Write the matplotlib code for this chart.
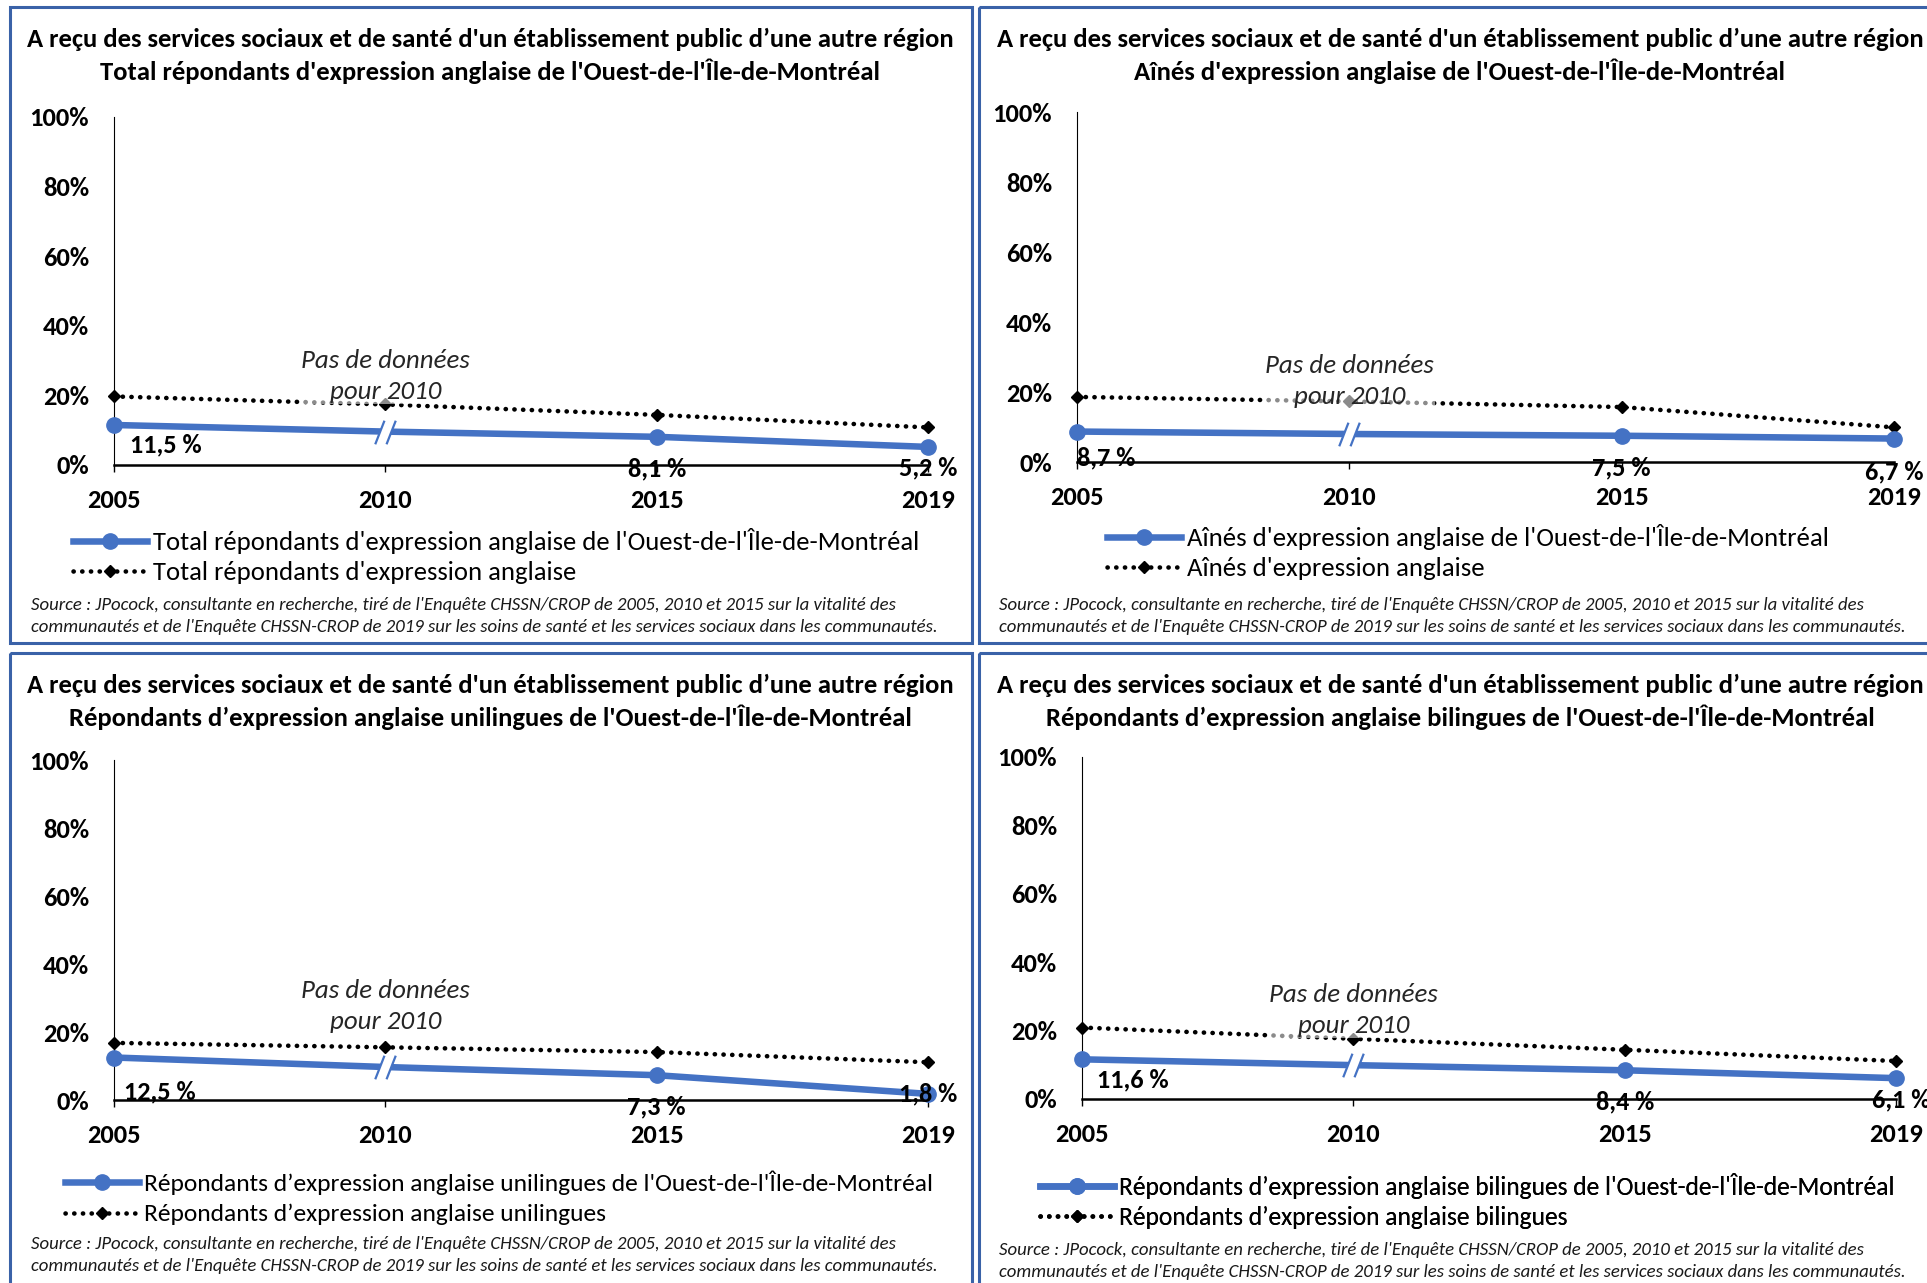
"""
Quatre panneaux : services reçus d'un établissement public d'une autre région,
Ouest-de-l'Île-de-Montréal vs ensemble des répondants d'expression anglaise.
"""
import matplotlib
matplotlib.use("Agg")
import matplotlib.pyplot as plt
from matplotlib import font_manager
from matplotlib.lines import Line2D
from matplotlib.patches import Rectangle
from matplotlib.path import Path

W, H, DPI = 1927, 1283, 100

_installed = {f.name for f in font_manager.fontManager.ttflist}
FONT = next(f for f in ["Carlito", "Liberation Sans Narrow", "Liberation Sans", "DejaVu Sans"]
            if f in _installed)
plt.rcParams["font.family"] = [FONT, "DejaVu Sans"]

BLUE = "#4472C4"
FRAME = "#3A62A8"

# ---------------------------------------------------------------------------
# Data
# ---------------------------------------------------------------------------
years = ["2005", "2010", "2015", "2019"]

tl_local = [11.5, 9.6, 8.1, 5.2]
tl_region = [19.7, 17.4, 14.4, 10.8]
tr_local = [8.7, 8.0, 7.5, 6.7]
tr_region = [18.6, 17.3, 15.7, 9.9]
bl_local = [12.5, 9.7, 7.3, 1.8]
bl_region = [16.8, 15.5, 14.1, 11.1]
br_local = [11.6, 9.9, 8.4, 6.1]
br_region = [20.9, 17.6, 14.4, 11.1]

main_title = "A reçu des services sociaux et de santé d'un établissement public d’une autre région"
subtitles = [
    "Total répondants d'expression anglaise de l'Ouest-de-l'Île-de-Montréal",
    "Aînés d'expression anglaise de l'Ouest-de-l'Île-de-Montréal",
    "Répondants d’expression anglaise unilingues de l'Ouest-de-l'Île-de-Montréal",
    "Répondants d’expression anglaise bilingues de l'Ouest-de-l'Île-de-Montréal",
]
legend_local = subtitles
legend_region = [
    "Total répondants d'expression anglaise",
    "Aînés d'expression anglaise",
    "Répondants d’expression anglaise unilingues",
    "Répondants d’expression anglaise bilingues",
]
note_text = "Pas de données\npour 2010"
source_lines = [
    "Source : JPocock, consultante en recherche, tiré de l'Enquête CHSSN/CROP de 2005, 2010 "
    "et 2015 sur la vitalité des",
    "communautés et de l'Enquête CHSSN-CROP de 2019 sur les soins de santé et les services "
    "sociaux dans les communautés.",
]

# ---------------------------------------------------------------------------
# Layout (pixels from top-left)
# ---------------------------------------------------------------------------
panels = [
    dict(local=tl_local, region=tl_region, frame=(10, 7), axes=(114, 117, 928, 465),
         title_y=(39, 71), cx=490, legend=(496, 556), legend_w=764, source=(31, 605),
         note_y=25.6, offsets=[(52, -20), (0, -32), (0, -21)]),
    dict(local=tr_local, region=tr_region, frame=(979, 7), axes=(1077, 112, 1894, 462),
         title_y=(39, 71), cx=1460, legend=(1468, 552), legend_w=640, source=(999, 605),
         note_y=23.1, offsets=[(29, -26), (0, -32), (0, -33)]),
    dict(local=bl_local, region=bl_region, frame=(10, 653), axes=(114, 760, 928, 1100),
         title_y=(685, 717), cx=490, legend=(499, 1198), legend_w=788, source=(31, 1244),
         note_y=27.6, offsets=[(46, -34), (0, -32), (0, 0)]),
    dict(local=br_local, region=br_region, frame=(979, 653), axes=(1082, 757, 1896, 1099),
         title_y=(685, 717), cx=1460, legend=(1467, 1201), legend_w=776, source=(999, 1250),
         note_y=26.0, offsets=[(51, -21), (0, -32), (5, -22)]),
]

fig = plt.figure(figsize=(W / DPI, H / DPI), dpi=DPI)
fig.patch.set_facecolor("white")
renderer = fig.canvas.get_renderer()


def measure(text, fs=20, **kw):
    t = fig.text(0, 0, text, fontsize=fs, **kw)
    bb = t.get_window_extent(renderer)
    t.remove()
    return bb.width, bb.height


def fit_size(text, target_px, **kw):
    """Font size that gives `text` the requested width in pixels."""
    return 20 * target_px / measure(text, **kw)[0]


TITLE_FS = fit_size(main_title, 929, weight="bold")
SOURCE_FS = fit_size(source_lines[0], 864, style="italic")
NOTE_FS = fit_size("Pas de données", 168, style="italic")
TICK_FS = fit_size("2005", 54, weight="bold")
LABEL_FS = fit_size("11,5 %", 72, weight="bold")

DOT_LW = 3.3
DOTS = (0, (0.05, 1.85))

# break mark "//" at 2010 on the blue line
_gap = Path([(-10, -11.5), (1, -11.5), (10, 11.5), (-1, 11.5), (-10, -11.5)])
_slashes = Path([(-10, -11.5), (-1, 11.5), (1, -11.5), (10, 11.5)],
                [Path.MOVETO, Path.LINETO, Path.MOVETO, Path.LINETO])

# background layer in pixel coordinates
bg = fig.add_axes([0, 0, 1, 1])
bg.set_xlim(0, W)
bg.set_ylim(H, 0)
bg.axis("off")

note_line_h = measure("Pas de données", NOTE_FS, style="italic")[1]


def fmt(v):
    return f"{v:.1f}".replace(".", ",") + " %"


for k, p in enumerate(panels):
    fx, fy = p["frame"]
    bg.add_patch(Rectangle((fx, fy), 962, 636, fill=False, ec=FRAME, lw=2.2))
    bg.text(p["cx"], p["title_y"][0], main_title, ha="center", va="center",
            fontsize=TITLE_FS, weight="bold")
    bg.text(p["cx"], p["title_y"][1], subtitles[k], ha="center", va="center",
            fontsize=TITLE_FS, weight="bold")
    sx, sy = p["source"]
    for i, line in enumerate(source_lines):
        bg.text(sx, sy + 22 * i, line, ha="left", va="center", style="italic",
                fontsize=SOURCE_FS, color="#1a1a1a")

    l, t, r, b = p["axes"]
    ax = fig.add_axes([l / W, 1 - b / H, (r - l) / W, (b - t) / H])
    ax.set_facecolor("none")
    x = list(range(len(years)))
    local, region = p["local"], p["region"]

    ax.plot(x, region, color="black", lw=DOT_LW, ls=DOTS, dash_capstyle="round",
            marker="D", ms=6.5, zorder=3, clip_on=False)
    ax.plot(x, local, color=BLUE, lw=4.7, solid_capstyle="butt", zorder=4, clip_on=False)
    idx = [0, 2, 3]
    ax.plot([x[i] for i in idx], [local[i] for i in idx], ls="none", marker="o",
            ms=11, color=BLUE, zorder=5, clip_on=False)
    ax.plot([x[1]], [local[1]], ls="none", marker=_gap, ms=17, mfc="white",
            mec="none", zorder=6)
    ax.plot([x[1]], [local[1]], ls="none", marker=_slashes, ms=17, mfc="none",
            mec=BLUE, mew=1.6, zorder=7)

    for i, (dx, dy) in zip(idx, p["offsets"]):
        ax.annotate(fmt(local[i]), (x[i], local[i]), xytext=(dx, dy),
                    textcoords="offset pixels", ha="center", va="center",
                    fontsize=LABEL_FS, weight="bold", zorder=8, annotation_clip=False)

    ax.text(1, p["note_y"], note_text, ha="center", va="center", style="italic",
            fontsize=NOTE_FS, color="#262626", zorder=9,
            linespacing=32 / note_line_h,
            bbox=dict(fc="white", ec="none", alpha=0.55, pad=1))

    ax.set_xlim(0, 3)
    ax.set_ylim(0, 100)
    ax.set_xticks(x)
    ax.set_xticklabels(years, fontsize=TICK_FS, weight="bold")
    ax.set_yticks(range(0, 101, 20))
    ax.set_yticklabels([f"{v}%" for v in range(0, 101, 20)], fontsize=TICK_FS, weight="bold")
    ax.tick_params(axis="y", length=0, pad=18)
    ax.tick_params(axis="x", length=5, width=1, direction="out", pad=12)
    for side in ("top", "right"):
        ax.spines[side].set_visible(False)
    ax.spines["left"].set_linewidth(0.8)
    ax.spines["bottom"].set_linewidth(1.8)

    leg_fs = fit_size(legend_local[k], p["legend_w"])
    fs_px = leg_fs * DPI / 72
    leg_h = measure(legend_local[k], leg_fs)[1]
    h1 = Line2D([], [], color=BLUE, lw=4.7, marker="o", ms=11)
    h2 = Line2D([], [], color="black", lw=DOT_LW, ls=DOTS, dash_capstyle="round",
                marker="D", ms=6.5)
    leg = bg.legend([h1, h2], [legend_local[k], legend_region[k]], loc="center",
                    bbox_to_anchor=p["legend"], bbox_transform=bg.transData,
                    frameon=False, fontsize=leg_fs, numpoints=1,
                    handlelength=74 / fs_px, handletextpad=0.2,
                    labelspacing=max(0.0, (33 - leg_h) / fs_px),
                    borderpad=0, borderaxespad=0)
    bg.add_artist(leg)

fig.savefig("out.png", dpi=DPI, facecolor="white")
